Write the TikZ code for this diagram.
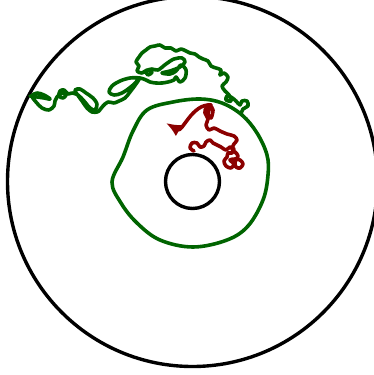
\documentclass[tikz,border=0pt]{standalone}
\usepackage{xcolor}
\usepackage{tikz}
\usetikzlibrary{arrows.meta}
\definecolor{DeepGreen}{HTML}{006400}
\definecolor{DeepRed}{HTML}{8B0000}

\begin{document}
\begin{tikzpicture}[x=1pt,y=-1pt,
  disc/.style={draw=black,line width=3.4pt},
  greenpath/.style={draw=DeepGreen,line width=3.6pt,line join=round,line cap=round},
  redpath/.style={draw=DeepRed,line width=3.6pt,line join=round,line cap=round}]
\useasboundingbox (0,0) rectangle (374,375);
\clip (0,0) rectangle (374,375);
\coordinate (O) at (192.5,181.5);
% annulus
\draw[disc] (O) circle (185);
\draw[disc] (O) circle (27);
% level curve
\draw[greenpath] plot[smooth cycle,tension=0.6] coordinates {
  (112,182) (123,157) (133,131) (147,110) (173,102) (200,99) (222,103)
  (242,115) (257,133) (267,155) (268,175) (263,200) (248,226) (227,240)
  (193,247) (160,240) (137,223) (121,203)};
% walk to the outer circle
\draw[greenpath] plot[smooth,tension=0.55] coordinates {
  (241,114) (243,109) (248,106) (247,101) (242,101) (240,105) (236,101)
  (231,97) (227,96) (226,100) (231,101) (229,95) (225,91) (222,86) (226,82)
  (228,77) (224,73) (220,75) (221,70) (216,68) (211,66) (208,61) (203,59)
  (199,57) (195,54) (190,53) (186,51) (181,49) (176,51) (171,48) (165,48)
  (160,45) (155,46) (150,47) (146,50) (142,53) (139,57) (136,62) (139,66)
  (137,71) (142,73) (147,70) (152,72) (148,75) (146,71) (152,69) (158,70)
  (166,64) (174,59) (182,58) (185,62) (180,67) (170,71) (162,73) (170,74)
  (176,71) (181,65) (186,70) (185,78) (180,82) (176,77) (174,80) (168,82)
  (162,83) (156,83) (150,82) (146,80) (140,78) (130,78) (120,81) (112,86)
  (109,92) (114,95) (122,93) (132,86) (139,79) (136,84) (130,92) (125,98)
  (119,101) (114,103) (108,102) (103,106) (99,111) (97,112) (92,112)
  (87,108) (82,101) (77,94) (75,90) (80,89) (86,93) (93,98) (97,104)
  (95,110) (90,108) (84,101) (78,95) (72,93) (68,94) (64,90) (60,91)
  (59,96) (63,98) (66,95) (62,93) (57,97) (55,101) (54,106) (49,110)
  (42,108) (36,102) (32,96) (37,93) (44,95) (50,99) (44,98) (37,97) (30,96)};
% walk from the inner circle
\draw[redpath] plot[smooth,tension=0.55] coordinates {
  (194,151) (190,148) (192,143) (197,143) (200,147) (204,146) (206,142)
  (210,140) (213,143) (217,145) (221,147) (226,150) (230,147) (234,149)
  (232,153) (228,153) (227,157) (224,161) (226,166) (231,168) (234,164)
  (230,160) (235,159) (240,160) (243,164) (240,168) (236,167) (235,162)
  (238,156) (235,152) (232,149) (234,144) (237,140) (234,136) (227,134)
  (220,131) (214,128) (209,130) (206,125) (208,119) (205,113) (206,108)
  (210,106) (213,110) (211,118) (208,114) (211,105)} coordinate (rtop);
\coordinate (rtip) at (166,123);
\draw[redpath,-{Latex[length=15pt,width=13pt]}] (rtop) to[out=175,in=330] (rtip);
\end{tikzpicture}
\end{document}
